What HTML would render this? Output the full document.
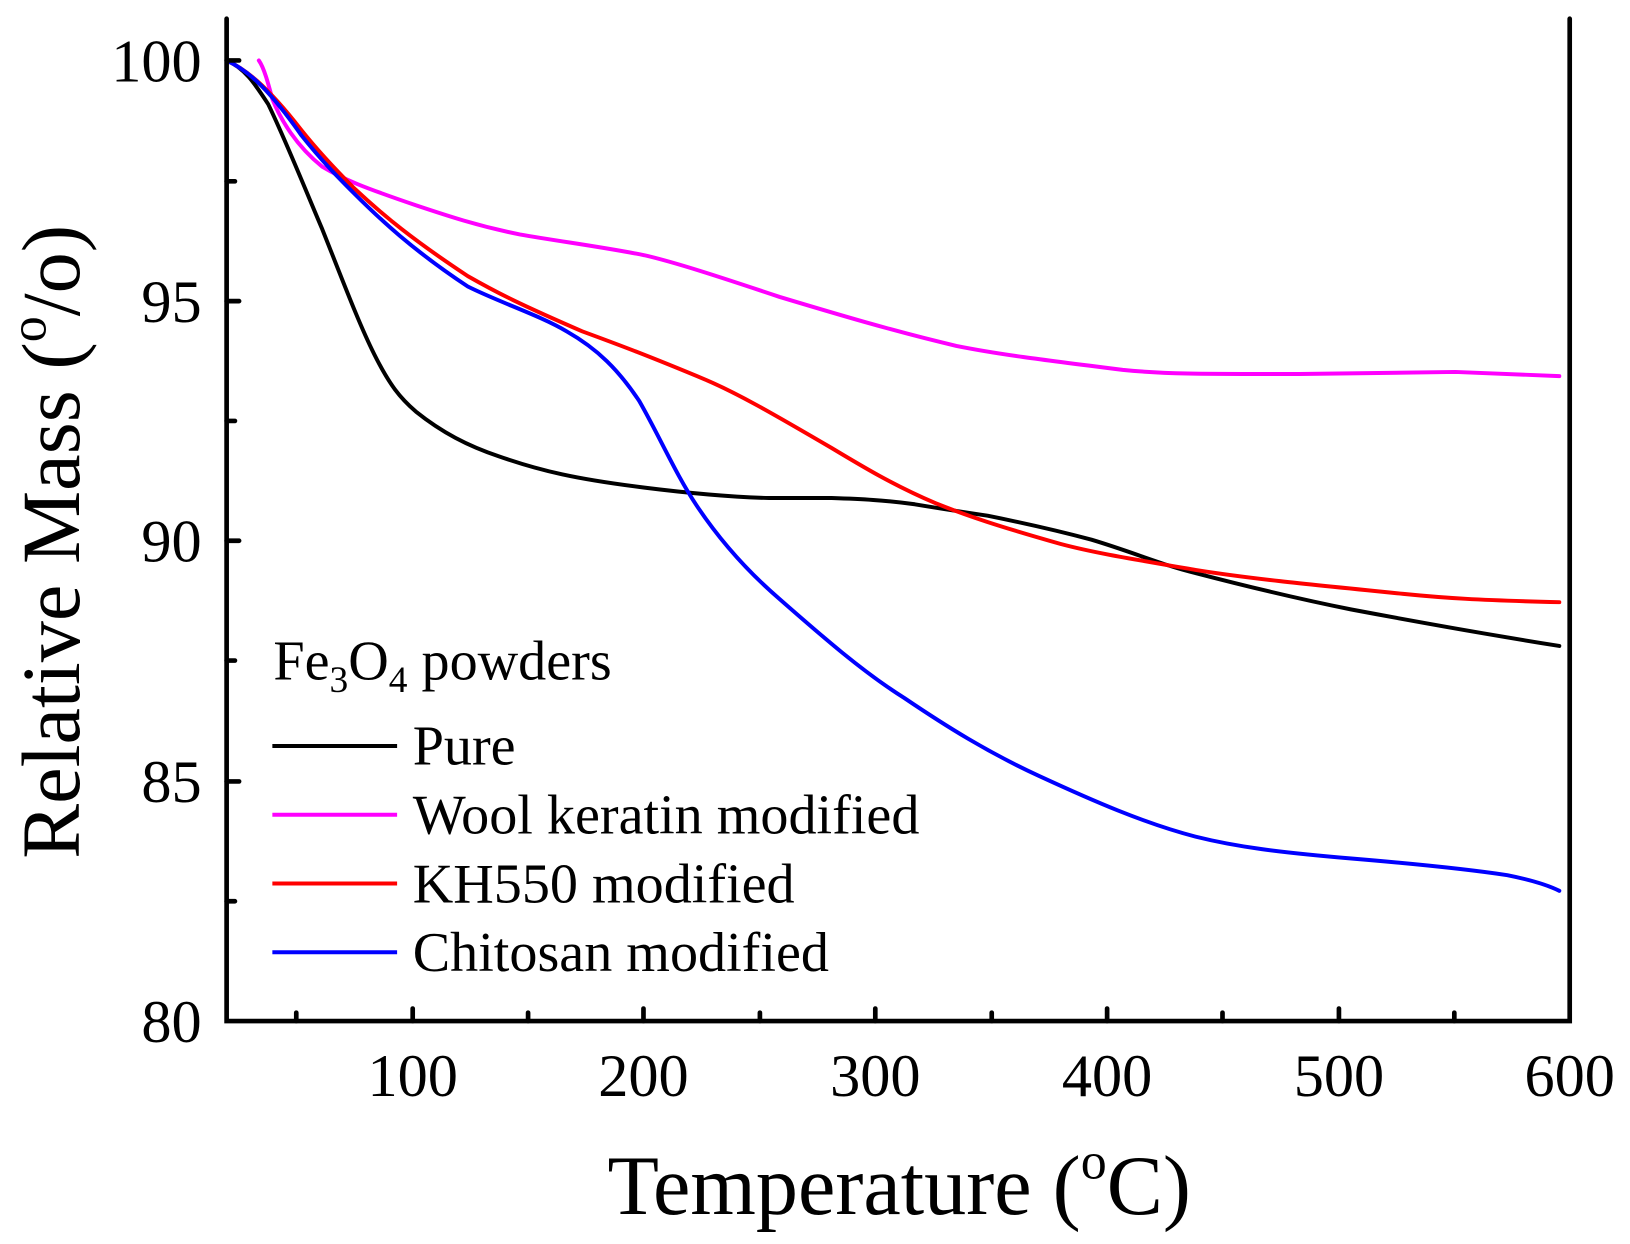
<!DOCTYPE html>
<html><head><meta charset="utf-8"><style>
html,body{margin:0;padding:0;background:#fff;}
svg{display:block;}
text{font-family:"Liberation Serif",serif;fill:#000;}
</style></head><body>
<svg width="1630" height="1244" viewBox="0 0 1568 1194" preserveAspectRatio="none" xmlns="http://www.w3.org/2000/svg">
<g fill="none" stroke-width="3.8" stroke-linejoin="round" stroke-linecap="round">
<path stroke="#000" d="M218,58 C235,65 245,80 258,100 C275,135 295,185 310,220 C330,270 345,310 360,340 C375,370 385,382 400,395 C425,415 450,428 480,438 C520,452 555,460 620,468 C660,473 700,477 740,478 L800,478 C830,479 850,480 880,484 C910,489 930,492 950,495 C990,503 1020,510 1050,518 C1090,530 1120,543 1150,550 C1200,563 1250,575 1300,585 C1380,600 1450,612 1500,620"/>
<path stroke="#ff00ff" d="M249,58 C254,65 258,80 262,95 C270,115 285,140 310,160 C330,172 350,180 400,197 C430,207 460,217 500,225 C540,232 580,237 620,245 C650,252 690,265 750,285 C800,300 860,318 920,332 C960,340 1000,345 1080,355 C1120,359 1150,359 1250,359 L1400,357 L1500,361"/>
<path stroke="#ff0000" d="M218,58 C235,66 255,80 290,125 C310,150 330,170 340,180 C370,208 397,230 450,265 C480,282 500,292 560,318 C590,329 620,340 680,365 C710,378 740,395 800,430 C830,448 860,466 900,483 C930,495 960,505 1020,522 C1050,530 1080,535 1150,547 C1200,555 1250,560 1350,570 C1390,574 1420,576 1500,578"/>
<path stroke="#0000ff" d="M218,58 C235,66 255,80 290,130 C310,155 325,170 340,185 C365,210 397,240 450,275 C480,290 520,303 545,318 C575,335 595,355 615,385 C635,420 650,455 670,485 C690,515 715,545 750,575 C790,610 830,645 870,670 C910,697 950,722 1000,745 C1050,768 1100,790 1150,803 C1190,813 1230,818 1300,824 C1360,829 1410,834 1450,840 C1475,845 1490,850 1500,855"/>
</g>
<g stroke="#000" stroke-width="4.5" fill="none" stroke-linecap="round">
<path d="M218,18 L218,980 L1510,980 L1510,18"/>
<path d="M397,980v-12M619,980v-12M842,980v-12M1065,980v-12M1288,980v-12M285,980v-8M508,980v-8M731,980v-8M954,980v-8M1176,980v-8M1399,980v-8"/>
<path d="M218,58h12M218,289h12M218,519h12M218,750h12M218,174h8M218,404h8M218,634h8M218,865h8"/>
</g>
<g stroke-width="3.8" stroke-linecap="butt">
<line x1="262" y1="716" x2="382" y2="716" stroke="#000"/>
<line x1="262" y1="782" x2="382" y2="782" stroke="#ff00ff"/>
<line x1="262" y1="848" x2="382" y2="848" stroke="#ff0000"/>
<line x1="262" y1="914" x2="382" y2="914" stroke="#0000ff"/>
</g>
<g font-size="58" text-anchor="end">
<text x="194" y="78">100</text><text x="194" y="309">95</text><text x="194" y="539">90</text><text x="194" y="770">85</text><text x="194" y="1000">80</text>
</g>
<g font-size="58" text-anchor="middle">
<text x="397" y="1052">100</text><text x="619" y="1052">200</text><text x="842" y="1052">300</text><text x="1065" y="1052">400</text><text x="1288" y="1052">500</text><text x="1510" y="1052">600</text>
</g>
<text x="865" y="1165" font-size="81" text-anchor="middle">Temperature (<tspan font-size="50" dy="-34">o</tspan><tspan dy="34">C)</tspan></text>
<text transform="translate(76,520) rotate(-90)" font-size="79" text-anchor="middle">Relative Mass (<tspan font-size="50" dy="-32">o</tspan><tspan font-size="79" dy="32">/o)</tspan></text>
<text x="263" y="652" font-size="54">Fe<tspan font-size="36" dy="12">3</tspan><tspan dy="-12">O</tspan><tspan font-size="36" dy="12">4</tspan><tspan dy="-12"> powders</tspan></text>
<g font-size="54">
<text x="397" y="734">Pure</text>
<text x="397" y="800">Wool keratin modified</text>
<text x="397" y="866">KH550 modified</text>
<text x="397" y="932">Chitosan modified</text>
</g>
</svg>
</body></html>
